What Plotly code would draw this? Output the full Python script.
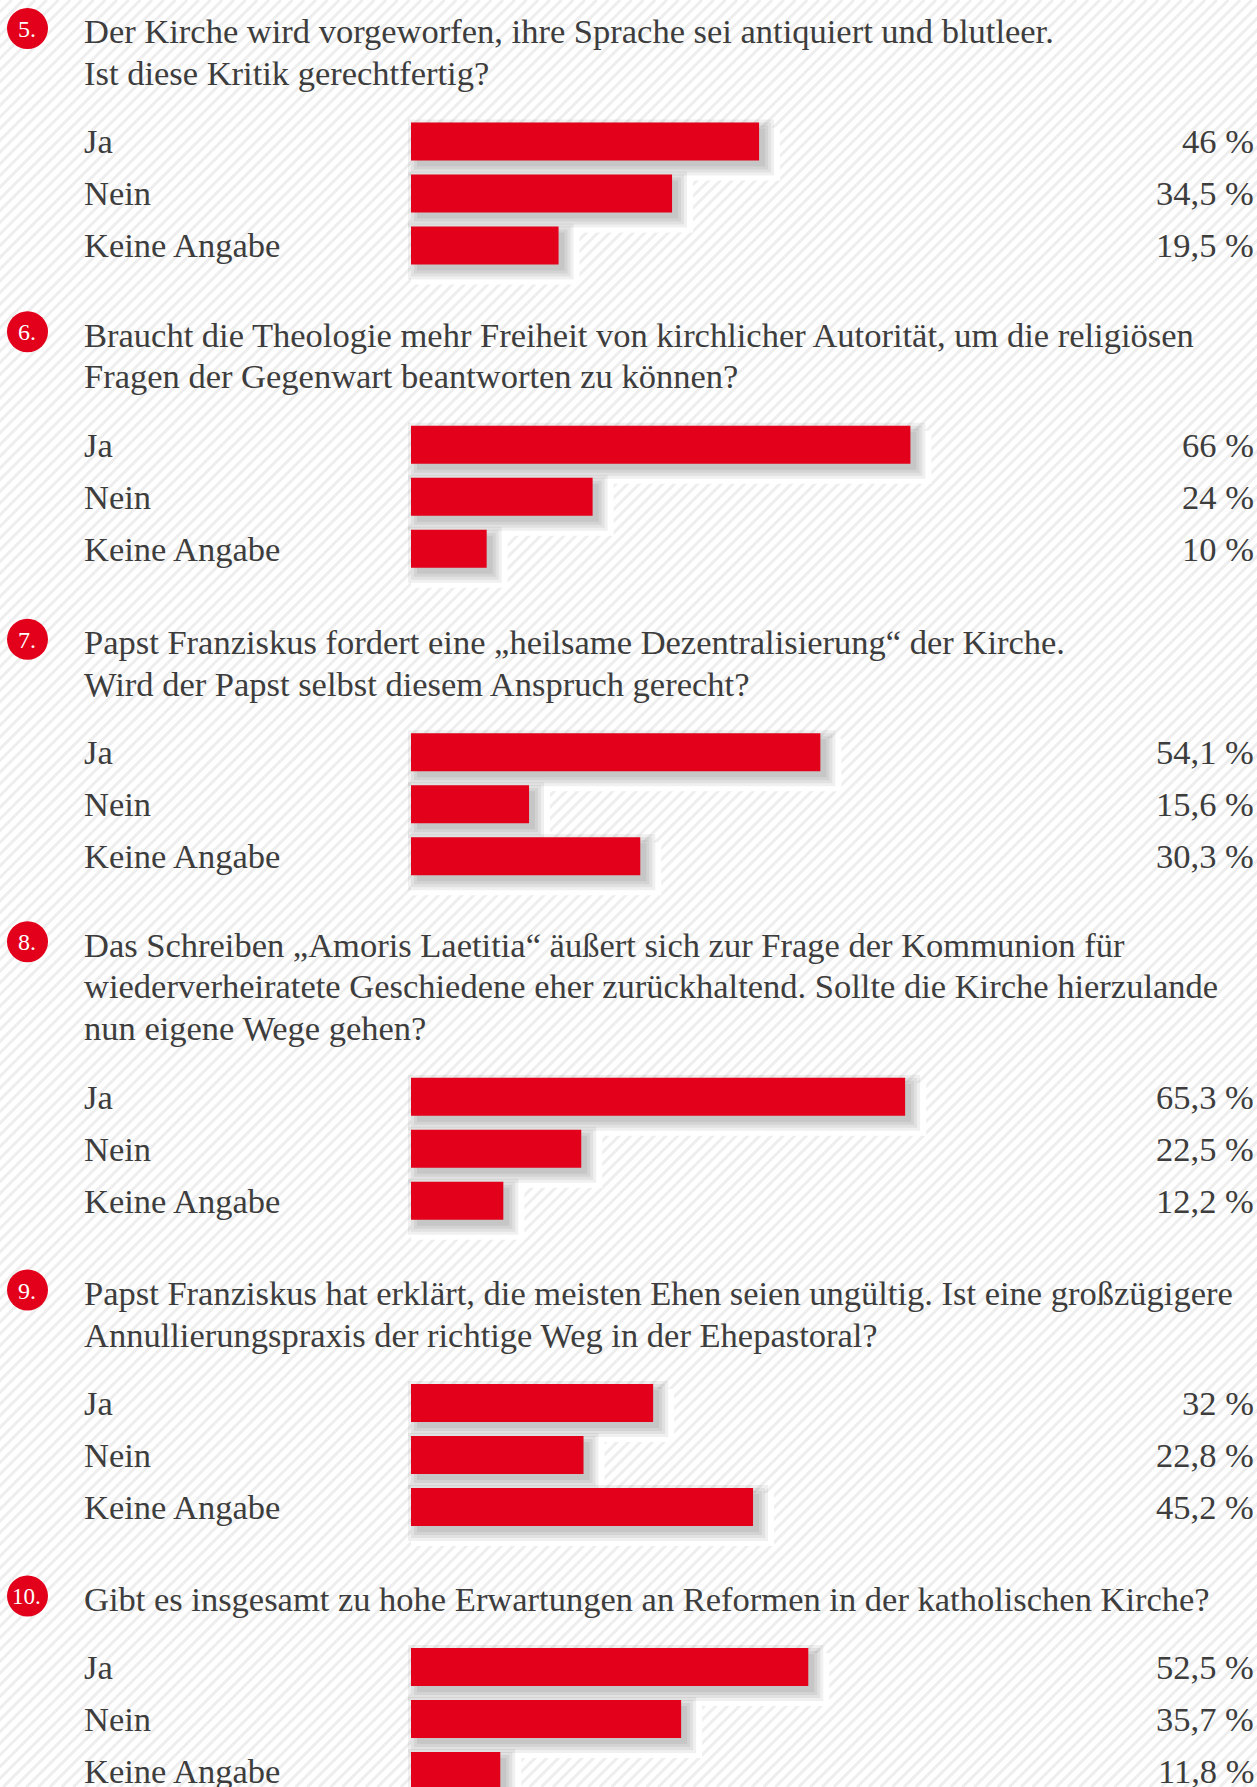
import plotly.graph_objects as go

# ---------------- data ----------------
NUMBERS = ["5.", "6.", "7.", "8.", "9.", "10."]
QUESTIONS = [
    ["Der Kirche wird vorgeworfen, ihre Sprache sei antiquiert und blutleer.",
     "Ist diese Kritik gerechtfertig?"],
    ["Braucht die Theologie mehr Freiheit von kirchlicher Autorität, um die religiösen",
     "Fragen der Gegenwart beantworten zu können?"],
    ["Papst Franziskus fordert eine „heilsame Dezentralisierung“ der Kirche.",
     "Wird der Papst selbst diesem Anspruch gerecht?"],
    ["Das Schreiben „Amoris Laetitia“ äußert sich zur Frage der Kommunion für",
     "wiederverheiratete Geschiedene eher zurückhaltend. Sollte die Kirche hierzulande",
     "nun eigene Wege gehen?"],
    ["Papst Franziskus hat erklärt, die meisten Ehen seien ungültig. Ist eine großzügigere",
     "Annullierungspraxis der richtige Weg in der Ehepastoral?"],
    ["Gibt es insgesamt zu hohe Erwartungen an Reformen in der katholischen Kirche?"],
]
CATEGORIES = ["Ja", "Nein", "Keine Angabe"]
Q5_VALUES = [46, 34.5, 19.5]
Q6_VALUES = [66, 24, 10]
Q7_VALUES = [54.1, 15.6, 30.3]
Q8_VALUES = [65.3, 22.5, 12.2]
Q9_VALUES = [32, 22.8, 45.2]
Q10_VALUES = [52.5, 35.7, 11.8]
ALL_VALUES = [Q5_VALUES, Q6_VALUES, Q7_VALUES, Q8_VALUES, Q9_VALUES, Q10_VALUES]

# ---------------- layout constants (pixels) ----------------
W, H = 1257, 1787
RED = "#e2001a"
TXT = "#3d3d3d"
FONT = "Liberation Serif"
FS = 34.5
CIRCLE_Y = [28.5, 331.7, 639.3, 941.7, 1290, 1596]
CIRCLE_X, CIRCLE_R = 27.5, 20.5
TEXT_X = 82
VALUE_X = 1256
BAR_X0 = 411
SCALE = 7.567          # px per percent
PITCH = 52             # px between bar centres
BAR_H = 38
LINE_H = 41.5


def px(x):
    return x / W


def py(y):
    return 1 - y / H


def fmt(v):
    return f"{v:g}".replace(".", ",") + " %"


fig = go.Figure()
shapes = []
annotations = []

# striped background
period = 11.7
segs = []
x0 = -H
while x0 < W + period:
    segs.append(f"M {px(x0):.5f},0 L {px(x0 + H):.5f},1")
    x0 += period
shapes.append(dict(type="path", path=" ".join(segs), xref="paper", yref="paper",
                   line=dict(color="#eeeeee", width=3), layer="below"))

layout_axes = {}
for i, (num, lines, vals) in enumerate(zip(NUMBERS, QUESTIONS, ALL_VALUES)):
    cy = CIRCLE_Y[i]
    yname = "y" if i == 0 else f"y{i + 1}"
    ykey = "yaxis" if i == 0 else f"yaxis{i + 1}"

    # number badge
    shapes.append(dict(type="circle", xref="paper", yref="paper",
                       x0=px(CIRCLE_X - CIRCLE_R), x1=px(CIRCLE_X + CIRCLE_R),
                       y0=py(cy + CIRCLE_R), y1=py(cy - CIRCLE_R),
                       fillcolor=RED, line=dict(width=0), layer="above"))
    annotations.append(dict(text=num, x=px(CIRCLE_X - 0.5), y=py(cy + 0.5), xref="paper", yref="paper",
                            xanchor="center", yanchor="middle", showarrow=False,
                            font=dict(family=FONT, size=24 if len(num) < 3 else 23, color="white")))

    # question lines
    for j, line in enumerate(lines):
        base = cy + 13.5 + LINE_H * j
        annotations.append(dict(text=line, x=px(TEXT_X), y=py(base - 10.5), xref="paper", yref="paper",
                                xanchor="left", yanchor="middle", showarrow=False,
                                font=dict(family=FONT, size=FS, color=TXT)))

    c1 = cy + 71 + 42 * (len(lines) - 1)
    top = c1 - PITCH / 2
    bottom = min(c1 + 2 * PITCH + 45, H)
    layout_axes[ykey] = dict(domain=[py(bottom), py(top)],
                             range=[(bottom - c1) / PITCH, (top - c1) / PITCH],
                             type="category", categoryorder="array", categoryarray=CATEGORIES,
                             visible=False, fixedrange=True, anchor="x")

    # white halo behind shadows
    fig.add_trace(go.Bar(y=CATEGORIES, x=[v + 21 / SCALE for v in vals], base=0,
                         orientation="h", xaxis="x", yaxis=yname,
                         width=53 / PITCH, offset=-14 / PITCH,
                         marker=dict(color="white", line=dict(width=0)),
                         hoverinfo="skip", showlegend=False))
    # soft shadow layers
    for spread in [9, 6, 3, 0]:
        fig.add_trace(go.Bar(y=CATEGORIES, x=[v + 2 * spread / SCALE for v in vals],
                             base=(6 - spread) / SCALE, orientation="h",
                             xaxis="x", yaxis=yname,
                             width=(BAR_H + 2 * spread) / PITCH,
                             offset=(-BAR_H / 2 - spread + 6) / PITCH,
                             marker=dict(color="rgba(0,0,0,0.06)", line=dict(width=0)),
                             hoverinfo="skip", showlegend=False))
    # main bars
    fig.add_trace(go.Bar(y=CATEGORIES, x=vals, orientation="h", xaxis="x", yaxis=yname,
                         width=BAR_H / PITCH, marker=dict(color=RED, line=dict(width=0)),
                         hovertemplate="%{y}: %{x} %<extra></extra>", showlegend=False))

    # category labels and values
    for cat, v in zip(CATEGORIES, vals):
        annotations.append(dict(text=cat, x=px(TEXT_X), y=cat, xref="paper", yref=yname,
                                xanchor="left", yanchor="middle", showarrow=False,
                                font=dict(family=FONT, size=FS, color=TXT)))
        annotations.append(dict(text=fmt(v), x=px(VALUE_X), y=cat, xref="paper", yref=yname,
                                xanchor="right", yanchor="middle", showarrow=False,
                                font=dict(family=FONT, size=FS, color=TXT)))

fig.update_layout(
    width=W, height=H,
    margin=dict(l=0, r=0, t=0, b=0),
    paper_bgcolor="white", plot_bgcolor="rgba(0,0,0,0)",
    barmode="overlay", showlegend=False,
    xaxis=dict(domain=[0, 1], range=[-BAR_X0 / SCALE, (W - BAR_X0) / SCALE],
               visible=False, fixedrange=True),
    shapes=shapes, annotations=annotations,
    **layout_axes,
)

fig.write_html(
    "out.html",
    config={"displayModeBar": False},
    post_script="document.body.style.margin='0';document.body.style.overflow='hidden';"
                "document.documentElement.style.overflow='hidden';",
)
